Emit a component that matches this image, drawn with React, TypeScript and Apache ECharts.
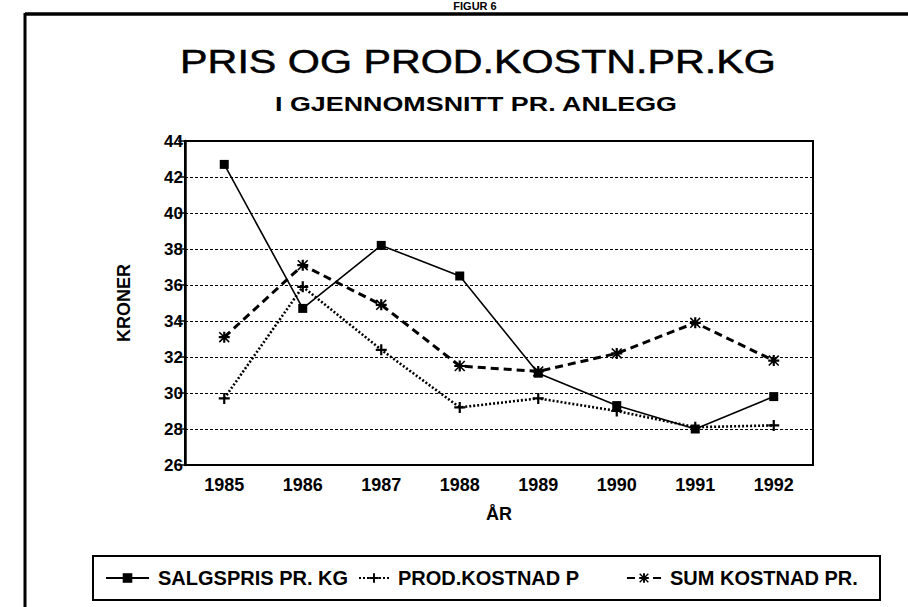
import React, { useEffect, useRef } from "react";
import * as echarts from "echarts";

const years = ["1985", "1986", "1987", "1988", "1989", "1990", "1991", "1992"];
const salgspris = [42.7, 34.7, 38.2, 36.5, 31.1, 29.3, 28.0, 29.8];
const prodKostnad = [29.7, 35.9, 32.4, 29.2, 29.7, 29.0, 28.1, 28.2];
const sumKostnad = [33.1, 37.1, 34.9, 31.5, 31.2, 32.2, 33.9, 31.8];
const seriesNames = ["SALGSPRIS PR. KG", "PROD.KOSTNAD P", "SUM KOSTNAD PR."];
const titleText = "PRIS OG PROD.KOSTN.PR.KG";
const subtitleText = "I GJENNOMSNITT PR. ANLEGG";
const figText = "FIGUR 6";

const FONT = "'Liberation Sans', Arial, Helvetica, sans-serif";
const PLUS = "path://M4,0h2v4h4v2h-4v4h-2v-4h-4v-2h4z";
const STAR =
  "path://M4,0L6,0L6,10L4,10Z M0,4L10,4L10,6L0,6Z M1,0L10,9L9,10L0,1Z M9,0L10,1L1,10L0,9Z";

export default function App() {
  const ref = useRef<HTMLDivElement>(null);
  useEffect(() => {
    if (!ref.current) return;
    const chart = echarts.init(ref.current, null, { renderer: "svg" });
    const legendBase = {
      orient: "horizontal" as const,
      top: 563,
      itemHeight: 12,
      textStyle: {
        fontFamily: FONT,
        fontWeight: "bold" as const,
        fontSize: 20,
        color: "#000",
        padding: [0, 0, 0, 4],
      },
    };
    chart.setOption({
      animation: false,
      backgroundColor: "#fff",
      grid: {
        left: 185,
        right: 95,
        top: 141,
        bottom: 142,
        show: true,
        borderColor: "#000",
        borderWidth: 2,
      },
      legend: [
        { ...legendBase, left: 100, itemWidth: 43, data: [seriesNames[0]] },
        { ...legendBase, left: 353, itemWidth: 30, data: [seriesNames[1]] },
        { ...legendBase, left: 621, itemWidth: 34, data: [seriesNames[2]] },
      ],
      xAxis: {
        type: "category",
        data: years,
        boundaryGap: true,
        name: "ÅR",
        nameLocation: "middle",
        nameGap: 40,
        nameTextStyle: { fontFamily: FONT, fontWeight: "bold", fontSize: 18, color: "#000" },
        axisLine: { lineStyle: { color: "#000", width: 2 } },
        axisTick: { alignWithLabel: true, length: 5, lineStyle: { color: "#000", width: 1.5 } },
        axisLabel: { fontFamily: FONT, fontWeight: "bold", fontSize: 18, color: "#000", margin: 11 },
        splitLine: { show: false },
      },
      yAxis: {
        type: "value",
        min: 26,
        max: 44,
        interval: 2,
        name: "KRONER",
        nameLocation: "middle",
        nameGap: 52,
        nameTextStyle: { fontFamily: FONT, fontWeight: "bold", fontSize: 18, color: "#000" },
        axisLine: { show: true, lineStyle: { color: "#000", width: 2.5 } },
        axisTick: { show: true, length: 7, lineStyle: { color: "#000", width: 1.5 } },
        axisLabel: { fontFamily: FONT, fontWeight: "bold", fontSize: 17, color: "#000", margin: 2 },
        splitLine: { show: true, lineStyle: { color: "#000", width: 1.2, type: [3, 2] } },
      },
      series: [
        {
          name: seriesNames[0],
          type: "line",
          data: salgspris,
          symbol: "rect",
          symbolSize: 9,
          itemStyle: { color: "#000" },
          lineStyle: { color: "#000", width: 1.6, type: "solid" },
        },
        {
          name: seriesNames[1],
          type: "line",
          data: prodKostnad,
          symbol: PLUS,
          symbolSize: 11,
          itemStyle: { color: "#000" },
          lineStyle: { color: "#000", width: 2.6, type: [2, 2] },
        },
        {
          name: seriesNames[2],
          type: "line",
          data: sumKostnad,
          symbol: STAR,
          symbolSize: 11,
          itemStyle: { color: "#000" },
          lineStyle: { color: "#000", width: 3, type: [8, 5] },
        },
      ],
      graphic: [
        {
          type: "line",
          shape: { x1: 25, y1: 14, x2: 908, y2: 14 },
          style: { stroke: "#000", lineWidth: 3.5 },
        },
        {
          type: "line",
          shape: { x1: 25, y1: 13, x2: 25, y2: 607 },
          style: { stroke: "#000", lineWidth: 3 },
        },
        {
          type: "rect",
          shape: { x: 93, y: 556, width: 787, height: 44 },
          style: { fill: "none", stroke: "#000", lineWidth: 2 },
        },
        {
          type: "text",
          x: 475,
          y: 0,
          style: {
            x: 0,
            y: 0,
            text: figText,
            fill: "#000",
            font: `bold 11px ${FONT}`,
            textAlign: "center",
            align: "center",
            textVerticalAlign: "top",
            verticalAlign: "top",
          },
        },
        {
          type: "text",
          x: 478,
          y: 62,
          scaleX: 1.25,
          style: {
            x: 0,
            y: 0,
            text: titleText,
            fill: "#000",
            stroke: "#000",
            lineWidth: 0.5,
            font: `normal 33px ${FONT}`,
            textAlign: "center",
            align: "center",
            textVerticalAlign: "middle",
            verticalAlign: "middle",
          },
        },
        {
          type: "text",
          x: 476,
          y: 104,
          scaleX: 1.28,
          style: {
            x: 0,
            y: 0,
            text: subtitleText,
            fill: "#000",
            font: `bold 21px ${FONT}`,
            textAlign: "center",
            align: "center",
            textVerticalAlign: "middle",
            verticalAlign: "middle",
          },
        },
      ],
    });
    return () => chart.dispose();
  }, []);
  return (
    <div
      ref={ref}
      style={{ position: "absolute", left: 0, top: 0, width: 908, height: 607, background: "#fff" }}
    />
  );
}
